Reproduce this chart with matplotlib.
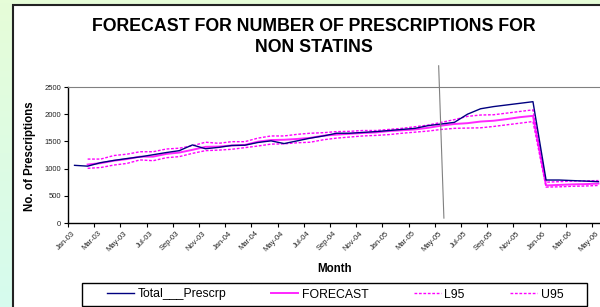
import numpy as np
import pandas as pd
import matplotlib
matplotlib.use("Agg")
import matplotlib.pyplot as plt
from matplotlib.patches import Rectangle

plt.rcParams["font.family"] = ["Liberation Sans", "DejaVu Sans"]

# monthly series Jan-03 .. May-06
months = pd.date_range("2003-01-01", periods=41, freq="MS").strftime("%b-%y").tolist()

total = [1060, 1045, 1110, 1150, 1185, 1215, 1255, 1295, 1330, 1435,
         1365, 1390, 1425, 1430, 1480, 1510, 1460, 1510, 1560, 1600,
         1650, 1650, 1665, 1680, 1700, 1720, 1740, 1790, 1820, 1850,
         2000, 2100, 2140, 2170, 2200, 2230, 790, 790, 780, 770, 760]

forecast = [np.nan, 1075, 1100, 1145, 1175, 1220, 1220, 1270, 1295, 1345,
            1400, 1405, 1425, 1435, 1495, 1525, 1530, 1545, 1565, 1605,
            1625, 1640, 1655, 1665, 1690, 1705, 1720, 1750, 1790, 1820,
            1835, 1865, 1880, 1910, 1945, 1970, 690, 700, 710, 715, 725]

l95 = [np.nan, 1005, 1020, 1065, 1095, 1160, 1145, 1200, 1220, 1280,
       1330, 1340, 1355, 1385, 1415, 1450, 1455, 1475, 1485, 1530,
       1560, 1580, 1600, 1610, 1625, 1650, 1670, 1690, 1720, 1740,
       1745, 1750, 1775, 1805, 1835, 1865, 660, 665, 675, 680, 690]

u95 = [np.nan, 1175, 1175, 1240, 1265, 1310, 1310, 1360, 1375, 1420,
       1485, 1465, 1495, 1495, 1560, 1600, 1600, 1630, 1650, 1660,
       1680, 1685, 1700, 1700, 1720, 1740, 1770, 1800, 1850, 1900,
       1960, 1985, 1990, 2020, 2050, 2080, 750, 760, 770, 775, 780]

# hand-drawn marker line at the end of the fitted period
cutoff_x = [27.8, 28.2]
cutoff_y = [2890, 90]

fig = plt.figure(figsize=(6.0, 3.07), dpi=100)

# light green background + white chart box
bg = fig.add_axes([0, 0, 1, 1], zorder=-2)
grad = np.linspace(0, 1, 100).reshape(-1, 1)
cmap = matplotlib.colors.LinearSegmentedColormap.from_list("bg", ["#e6fdd8", "#d6fbee"])
bg.imshow(grad, aspect="auto", cmap=cmap, extent=[0, 1, 0, 1])
bg.set_axis_off()
fig.patches.append(Rectangle((13 / 600, -0.05), 1.0, 1 - 5 / 307 + 0.05,
                             transform=fig.transFigure, facecolor="white",
                             edgecolor="#222222", linewidth=1.5, zorder=-1))

ax = fig.add_axes([68 / 600, 1 - 223 / 307, 537 / 600, 136 / 307])
ax.set_facecolor("none")
x = np.arange(len(months))

ax.plot(x, total, color="#000080", lw=1.0, label="Total___Prescrp", zorder=4)
ax.plot(x, forecast, color="#ff00ff", lw=1.4, alpha=0.85, label="FORECAST", zorder=3)
ax.plot(x, l95, color="#ff00ff", lw=1.0, ls=(0, (2, 1.2)), label="L95", zorder=3)
ax.plot(x, u95, color="#ff00ff", lw=1.0, ls=(0, (2, 1.2)), label="U95", zorder=3)
ax.plot(cutoff_x, cutoff_y, color="#808080", lw=0.8, clip_on=False, zorder=5)

ax.set_xlim(-0.5, len(months) - 0.5)
ax.set_ylim(0, 2500)
ax.set_yticks(np.arange(0, 2501, 500))
ax.tick_params(axis="y", labelsize=5.5, length=3, width=0.8, pad=2,
               direction="out", labelcolor="#222222")

ax.set_xticks(np.arange(-0.5, len(months), 2))
ax.set_xticklabels([])
ax.set_xticks(x[::2] - 0.25, minor=True)
ax.set_xticklabels(months[::2], minor=True, rotation=45, ha="right",
                   rotation_mode="anchor", fontsize=5.5, color="#222222")
ax.tick_params(axis="x", which="major", length=3, width=0.8, direction="out")
ax.tick_params(axis="x", which="minor", length=0, pad=5)

ax.spines["right"].set_visible(False)
ax.spines["top"].set_color("#808080")
ax.spines["top"].set_linewidth(0.8)
ax.spines["left"].set_linewidth(1.0)
ax.spines["bottom"].set_linewidth(1.0)

fig.text(0.523, 1 - 37 / 307, "FORECAST FOR NUMBER OF PRESCRIPTIONS FOR\nNON STATINS",
         ha="center", va="center", fontsize=12.8, fontweight="bold", linespacing=1.3)
fig.text(30 / 600, 1 - 156 / 307, "No. of Prescriptions", rotation=90,
         ha="center", va="center", fontsize=8.3, fontweight="bold")
fig.text(335 / 600, 1 - 269 / 307, "Month", ha="center", va="center",
         fontsize=8.3, fontweight="bold")

handles, labels = ax.get_legend_handles_labels()
leg = fig.legend(handles, labels, loc="center", ncol=4,
                 bbox_to_anchor=((107 + 563) / 2 / 600, 1 - 294.5 / 307),
                 frameon=False, fontsize=8.8, handlelength=2.2,
                 handletextpad=0.3, columnspacing=3.7)
fig.patches.append(Rectangle((82 / 600, 1 - 306 / 307), 505 / 600, 23 / 307,
                             transform=fig.transFigure, facecolor="white",
                             edgecolor="black", linewidth=1.0, zorder=0))

fig.savefig("out.png", dpi=100)
